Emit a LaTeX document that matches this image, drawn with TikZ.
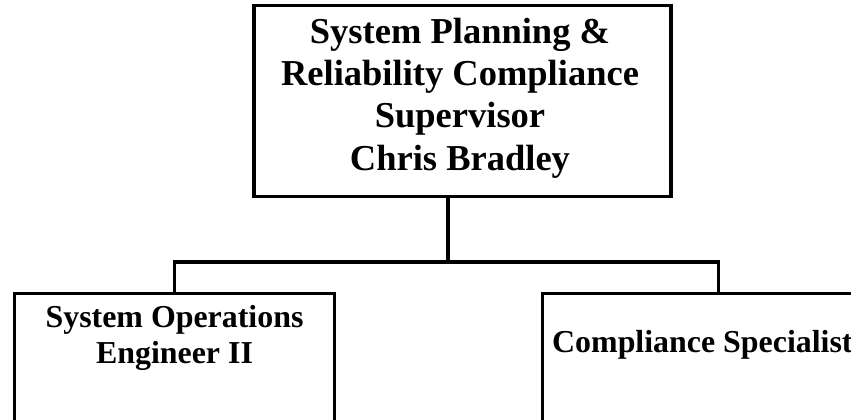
\documentclass[tikz,border=0pt]{standalone}
\usepackage{fontspec}
\setmainfont{Liberation Serif}
\begin{document}
\begin{tikzpicture}[x=1pt,y=-1pt,
  box/.style={draw, rectangle, inner sep=0pt, outer sep=0pt, line width=3pt},
  topbox/.style={box, line width=3.4pt},
  link/.style={draw, line width=3.2pt},
  bigtxt/.style={font=\fontsize{36.5}{42.3}\selectfont\bfseries, align=center, inner sep=0pt},
  smalltxt/.style={font=\fontsize{31.9}{36}\selectfont\bfseries, align=center, inner sep=0pt}]
\useasboundingbox (0,0) rectangle (851,420);
\clip (0,0) rectangle (851,420);
\fill[white] (0,0) rectangle (851,420);
\node[topbox, minimum width=417pt, minimum height=191pt] (sup) at (462.5,101) {};
\node[box, minimum width=320pt, minimum height=200pt, anchor=north west] (soe) at (14.5,293.5) {};
\node[box, minimum width=352pt, minimum height=200pt, anchor=north west] (cs) at (542.5,293.5) {};
\coordinate (jm) at (448,262);
\coordinate (jl) at (174.5,262);
\coordinate (jr) at (718.5,262);
\draw[link] (sup.south -| jm) -- (jm);
\draw[link] (soe.north -| jl) -- (jl) -- (jr) -- (cs.north -| jr);
\node[bigtxt, anchor=base] (suptext) at (460,170) {System Planning \&\\Reliability Compliance\\Supervisor\\Chris Bradley};
\node[smalltxt, anchor=base] (soetext) at (174.5,363) {System Operations\\Engineer II};
\node[smalltxt, anchor=base west] (cstext) at (552,352) {Compliance Specialist};
\end{tikzpicture}
\end{document}
